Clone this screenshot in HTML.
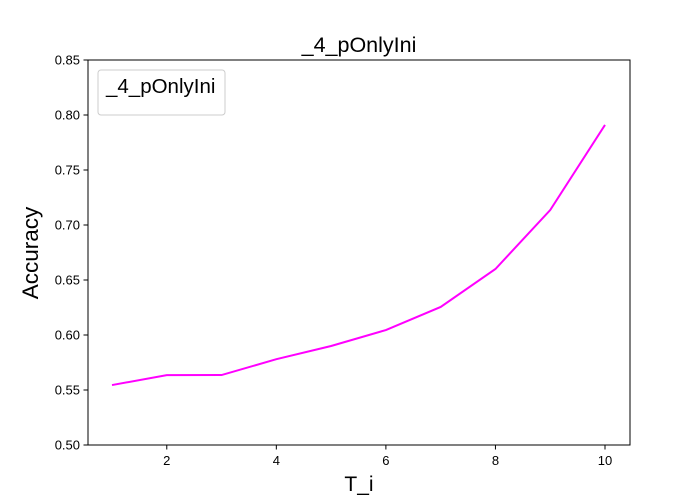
<!DOCTYPE html>
<html><head><meta charset="utf-8"><style>
body{margin:0;background:#fff;}
svg{display:block;font-family:"Liberation Sans","DejaVu Sans",sans-serif;}
</style></head><body>
<svg id="chart" width="700" height="500">
<rect x="0" y="0" width="700" height="500" fill="#fff"/>
<text x="359" y="52" font-size="21.5" text-anchor="middle">_4_pOnlyIni</text>
<g id="ticks"></g>
<polyline id="series" fill="none" stroke="#ff00ff" stroke-width="2"/>
<rect x="88" y="60" width="542" height="385" fill="none" stroke="#000" stroke-width="1"/>
<g>
<rect x="98" y="70" width="127" height="45" rx="3" fill="#fff" stroke="#ccc"/>
<text x="106" y="93" font-size="20.5">_4_pOnlyIni</text>
</g>
<text x="359" y="491" font-size="21" text-anchor="middle">T_i</text>
<text transform="translate(38,253) rotate(-90)" font-size="22.5" text-anchor="middle">Accuracy</text>
</svg>
<script>
const xValues=[1,2,3,4,5,6,7,8,9,10];
const accuracy=[0.5545,0.5635,0.5636,0.578,0.590,0.6045,0.6255,0.660,0.7136,0.791];
const xTicks=[2,4,6,8,10];
const yTicks=[0.50,0.55,0.60,0.65,0.70,0.75,0.80,0.85];
const ns="http://www.w3.org/2000/svg";
function xs(v){return 112+(v-1)*(605-112)/9;}
function ys(v){return 445-(v-0.5)*(385/0.35);}
const g=document.getElementById('ticks');
xTicks.forEach(t=>{
 const l=document.createElementNS(ns,'line');
 l.setAttribute('x1',xs(t));l.setAttribute('x2',xs(t));l.setAttribute('y1',445);l.setAttribute('y2',449.5);l.setAttribute('stroke','#000');
 
 
 g.appendChild(l);
 const tx=document.createElementNS(ns,'text');
 tx.setAttribute('x',xs(t));tx.setAttribute('y',465);tx.setAttribute('font-size','13');tx.setAttribute('text-anchor','middle');
 tx.textContent=t;
 
 
 g.appendChild(tx);
});
yTicks.forEach(t=>{
 const l=document.createElementNS(ns,'line');
 l.setAttribute('x1',83.5);l.setAttribute('x2',88);l.setAttribute('y1',ys(t));l.setAttribute('y2',ys(t));l.setAttribute('stroke','#000');
 
 
 g.appendChild(l);
 const tx=document.createElementNS(ns,'text');
 tx.setAttribute('x',80);tx.setAttribute('y',ys(t)+4.5);tx.setAttribute('font-size','13');tx.setAttribute('text-anchor','end');
 tx.textContent=t.toFixed(2);
 
 
 g.appendChild(tx);
});
document.getElementById('series').setAttribute('points',xValues.map((x,i)=>xs(x)+','+ys(accuracy[i])).join(' '));
</script>
</body></html>
